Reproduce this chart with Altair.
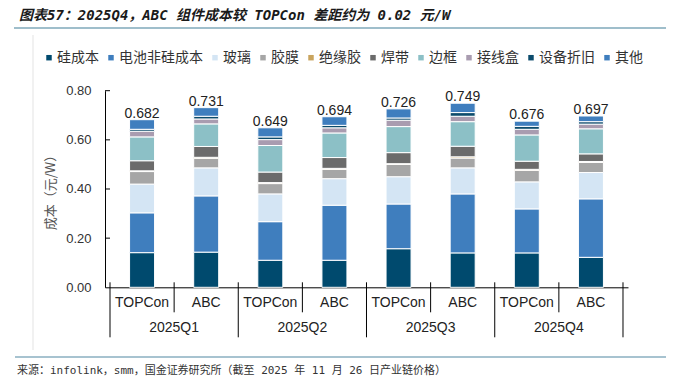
import altair as alt
import pandas as pd

quarters = ["2025Q1", "2025Q2", "2025Q3", "2025Q4"]
techs = ["TOPCon", "ABC"]
components = ["硅成本", "电池非硅成本", "玻璃", "胶膜", "绝缘胶", "焊带", "边框", "接线盒", "设备折旧", "其他"]
colors = ["#004A6E", "#3F7EBE", "#D4E5F4", "#A6A6A6", "#C9A45E", "#6B6B6B", "#8CC0C6", "#A99CB0", "#0C4B6C", "#3F7EBE"]

# order of bars: Q1 TOPCon, Q1 ABC, Q2 TOPCon, Q2 ABC, ...
silicon = [0.141, 0.143, 0.110, 0.110, 0.157, 0.140, 0.140, 0.122]
cell_nonsi = [0.162, 0.229, 0.157, 0.224, 0.182, 0.240, 0.179, 0.238]
glass = [0.117, 0.114, 0.113, 0.108, 0.111, 0.106, 0.110, 0.107]
film = [0.051, 0.039, 0.042, 0.038, 0.050, 0.040, 0.047, 0.041]
glue = [0.003, 0.004, 0.004, 0.004, 0.003, 0.005, 0.004, 0.004]
ribbon = [0.041, 0.044, 0.043, 0.044, 0.045, 0.043, 0.033, 0.031]
frame = [0.097, 0.092, 0.108, 0.100, 0.106, 0.100, 0.107, 0.102]
jbox = [0.023, 0.020, 0.024, 0.021, 0.026, 0.022, 0.023, 0.019]
depreciation = [0.008, 0.011, 0.011, 0.010, 0.009, 0.015, 0.012, 0.010]
other = [0.039, 0.035, 0.037, 0.035, 0.037, 0.038, 0.021, 0.023]
totals = [0.682, 0.731, 0.649, 0.694, 0.726, 0.749, 0.676, 0.697]
y_ticks = [0.0, 0.2, 0.4, 0.6, 0.8]

title_text = "图表57：2025Q4，ABC 组件成本较 TOPCon 差距约为 0.02 元/W"
source_text = "来源：infolink，smm，国金证券研究所（截至 2025 年 11 月 26 日产业链价格）"

series = [silicon, cell_nonsi, glass, film, glue, ribbon, frame, jbox, depreciation, other]

W, H = 523, 196.6
LAT = "Liberation Sans"
CJK = "Noto Sans CJK SC"

rows, bar_rows = [], []
for qi, q in enumerate(quarters):
    for ti, t in enumerate(techs):
        i = qi * 2 + ti
        bar_rows.append({"pos": i + 0.5, "tech": t, "total": totals[i]})
        for ci, comp in enumerate(components):
            rows.append({"pos": i + 0.5, "comp": comp, "idx": ci, "value": series[ci][i]})
df = pd.DataFrame(rows)
df_bar = pd.DataFrame(bar_rows)
df_grp = pd.DataFrame({"gpos": [2 * k + 1 for k in range(len(quarters))], "quarter": quarters})
df_bnd = pd.DataFrame({"b": list(range(len(quarters) * 2 + 1))})
df_bnd["kind"] = ["g" if b % 2 == 0 else "i" for b in df_bnd["b"]]
df_yt = pd.DataFrame({"v": y_ticks[1:]})

xscale = alt.Scale(domain=[0, 8], nice=False, zero=False)
yscale = alt.Scale(domain=[0, 0.8], nice=False)

bars = alt.Chart(df).mark_bar(size=25, stroke="white", strokeWidth=1).encode(
    x=alt.X("pos:Q", scale=xscale,
            axis=alt.Axis(labels=False, ticks=False, grid=False, title=None,
                          domainColor="black", domainWidth=1)),
    y=alt.Y("value:Q", stack="zero", scale=yscale,
            axis=alt.Axis(values=y_ticks, format=".2f", grid=False, ticks=False,
                          labelPadding=14, labelFont=LAT, labelFontSize=13, labelColor="#333",
                          domainColor="black", domainWidth=1,
                          title="成本（元/W）", titleFont=CJK, titleFontSize=13,
                          titleFontWeight="normal", titleColor="#555", titlePadding=8)),
    color=alt.Color("comp:N", scale=alt.Scale(domain=components, range=colors),
                    sort=components,
                    legend=alt.Legend(orient="none", legendX=-63, legendY=-40,
                                      direction="horizontal", columns=10, title=None,
                                      symbolType="square", symbolSize=30, symbolStrokeWidth=0,
                                      labelFontSize=14, labelFont=CJK, labelColor="#333",
                                      columnPadding=5, labelOffset=1)),
    order=alt.Order("idx:Q", sort="ascending"),
)

tot = alt.Chart(df_bar).mark_text(font=LAT, fontSize=14, color="#222", baseline="alphabetic", dy=-2).encode(
    x=alt.X("pos:Q", scale=xscale), y=alt.Y("total:Q", scale=yscale),
    text=alt.Text("total:Q", format=".3f"))

tech_lbl = alt.Chart(df_bar).mark_text(font=LAT, fontSize=14, color="#222", baseline="middle").encode(
    x=alt.X("pos:Q", scale=xscale), y=alt.value(H + 16), text="tech:N")

grp_lbl = alt.Chart(df_grp).mark_text(font=LAT, fontSize=14, color="#222", baseline="middle").encode(
    x=alt.X("gpos:Q", scale=xscale), y=alt.value(H + 41), text="quarter:N")

bnd_g = alt.Chart(df_bnd).transform_filter("datum.kind == 'g'").mark_rule(color="black", strokeWidth=1).encode(
    x=alt.X("b:Q", scale=xscale), y=alt.value(H - 5), y2=alt.value(H + 50))
bnd_i = alt.Chart(df_bnd).transform_filter("datum.kind == 'i'").mark_rule(color="black", strokeWidth=1).encode(
    x=alt.X("b:Q", scale=xscale), y=alt.value(H - 5), y2=alt.value(H + 25))

ytk = alt.Chart(df_yt).mark_rule(color="black", strokeWidth=1).encode(
    x=alt.value(0), x2=alt.value(5), y=alt.Y("v:Q", scale=yscale))

deco_df = pd.DataFrame({"t": [title_text]})
title = alt.Chart(deco_df).mark_text(font="DejaVu Sans Mono, " + CJK, fontSize=14, fontStyle="italic",
                                     fontWeight="bold", color="#1a1a1a", align="left", baseline="middle").encode(
    x=alt.value(-86), y=alt.value(-74.7), text="t:N")
title_line = alt.Chart(deco_df).mark_rule(color="#7FA8BA", strokeWidth=1.5).encode(
    x=alt.value(-91), x2=alt.value(580), y=alt.value(-62.7))
src_df = pd.DataFrame({"t": [source_text]})
source = alt.Chart(src_df).mark_text(font="DejaVu Sans Mono, " + CJK, fontSize=11, color="#333",
                                     align="left", baseline="middle").encode(
    x=alt.value(-88), y=alt.value(H + 83.7), text="t:N")
src_line = alt.Chart(src_df).mark_rule(color="#8AAFC0", strokeWidth=1.5).encode(
    x=alt.value(-90), x2=alt.value(580), y=alt.value(H + 69.7))
left_border = alt.Chart(src_df).mark_rule(color="#E3E3E3", strokeWidth=1).encode(
    x=alt.value(-72), y=alt.value(-55.7), y2=alt.value(H + 62.7))

chart = alt.layer(left_border, title_line, title, src_line, source, bars, tot, tech_lbl, grp_lbl,
                  bnd_g, bnd_i, ytk).properties(
    width=W, height=H,
    autosize=alt.AutoSizeParams(type="none"),
    padding={"left": 97, "top": 82.7, "right": 38, "bottom": 92},
).configure_view(stroke=None)

chart.save("out.html", embed_options={"renderer": "svg", "actions": False})
